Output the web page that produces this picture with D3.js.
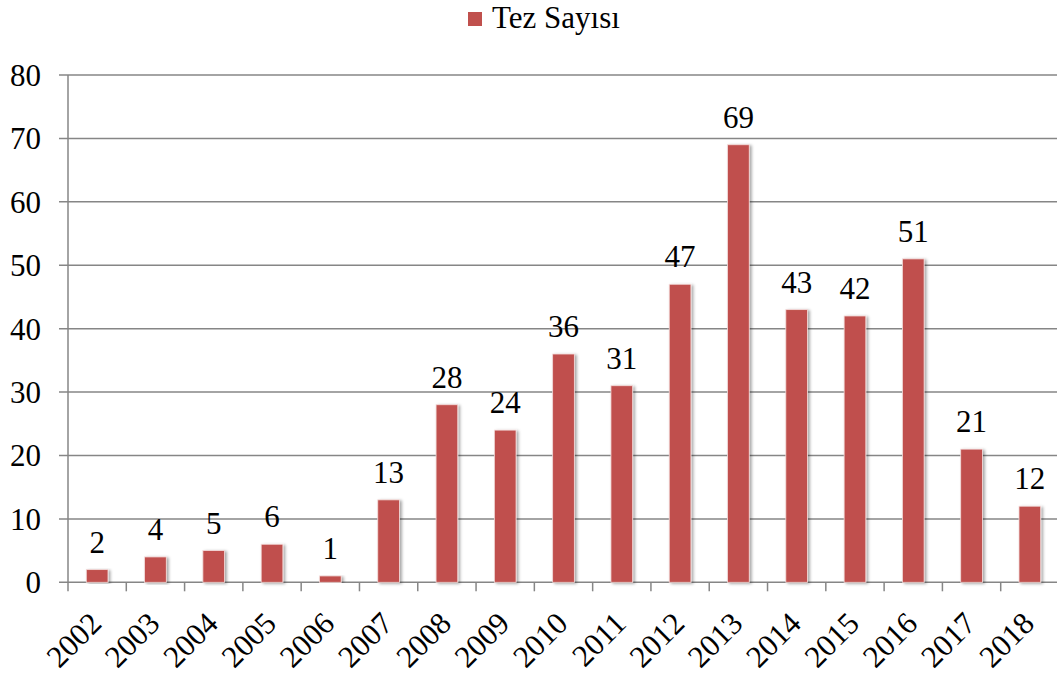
<!DOCTYPE html>
<html>
<head>
<meta charset="utf-8">
<style>
body { margin: 0; background: #fff; }
svg text { font-family: "Times New Roman", Times, "Liberation Serif", "DejaVu Serif", serif; fill: #000; }
</style>
</head>
<body>
<script src="https://cdn.jsdelivr.net/npm/d3@7/dist/d3.min.js"></script>
<script>
const years = ["2002","2003","2004","2005","2006","2007","2008","2009","2010","2011","2012","2013","2014","2015","2016","2017","2018"];
const counts = [2,4,5,6,1,13,28,24,36,31,47,69,43,42,51,21,12];
const yTicks = [0,10,20,30,40,50,60,70,80];
const seriesName = "Tez Sayısı";

const W = 1057, H = 675;
const margin = {top: 75, left: 68};
const plotW = 991, plotH = 507.3;
const barColor = "#C0504D", gridColor = "#868686";

const svg = d3.select("body").append("svg")
    .attr("width", W).attr("height", H);

// shadow for bars
const defs = svg.append("defs");
const f = defs.append("filter").attr("id", "shadow")
    .attr("x", "-30%").attr("y", "-10%").attr("width", "160%").attr("height", "120%");
f.append("feDropShadow").attr("dx", 2).attr("dy", 1).attr("stdDeviation", 1.6)
    .attr("flood-color", "#000").attr("flood-opacity", 0.35);

const g = svg.append("g").attr("transform", `translate(${margin.left},${margin.top})`);

const x = d3.scaleBand().domain(years).range([0, plotW]);
const y = d3.scaleLinear().domain([0, 80]).range([plotH, 0]);

// gridlines
g.selectAll(".grid").data(yTicks).enter().append("line")
    .attr("x1", -9).attr("x2", plotW)
    .attr("y1", d => y(d)).attr("y2", d => y(d))
    .attr("stroke", gridColor).attr("stroke-width", 1.5);

// y axis line
g.append("line").attr("x1", 0).attr("x2", 0).attr("y1", 0).attr("y2", plotH)
    .attr("stroke", gridColor).attr("stroke-width", 1.5);

// y labels
g.selectAll(".ylab").data(yTicks).enter().append("text")
    .attr("x", -27).attr("y", d => y(d))
    .attr("dy", "0.35em")
    .attr("text-anchor", "end")
    .attr("font-size", 31)
    .text(d => d);

// x ticks
const bounds = d3.range(years.length + 1).map(i => i * x.step());
g.selectAll(".xtick").data(bounds).enter().append("line")
    .attr("x1", d => d).attr("x2", d => d)
    .attr("y1", plotH).attr("y2", plotH + 9)
    .attr("stroke", gridColor).attr("stroke-width", 1.5);

// bars
const bw = 21.7;
g.selectAll(".bar").data(counts).enter().append("rect")
    .attr("x", (d, i) => x(years[i]) + x.bandwidth() / 2 - bw / 2)
    .attr("y", d => y(d))
    .attr("width", bw)
    .attr("height", d => plotH - y(d))
    .attr("fill", barColor)
    .attr("stroke", "#f4dcdb").attr("stroke-width", 0.8)
    .attr("filter", "url(#shadow)");

// value labels
g.selectAll(".vlab").data(counts).enter().append("text")
    .attr("x", (d, i) => x(years[i]) + x.bandwidth() / 2)
    .attr("y", d => y(d) - 17)
    .attr("text-anchor", "middle")
    .attr("font-size", 31)
    .text(d => d);

// x labels
g.selectAll(".xlab").data(years).enter().append("text")
    .attr("transform", d => `translate(${x(d) + x.bandwidth() / 2 + 6},${plotH + 43}) rotate(-45)`)
    .attr("text-anchor", "end")
    .attr("font-size", 31)
    .text(d => d);

// legend
svg.append("rect").attr("x", 468).attr("y", 12).attr("width", 14).attr("height", 14)
    .attr("fill", barColor);
svg.append("text").attr("x", 492).attr("y", 28)
    .attr("font-size", 31)
    .text(seriesName);
</script>
</body>
</html>
